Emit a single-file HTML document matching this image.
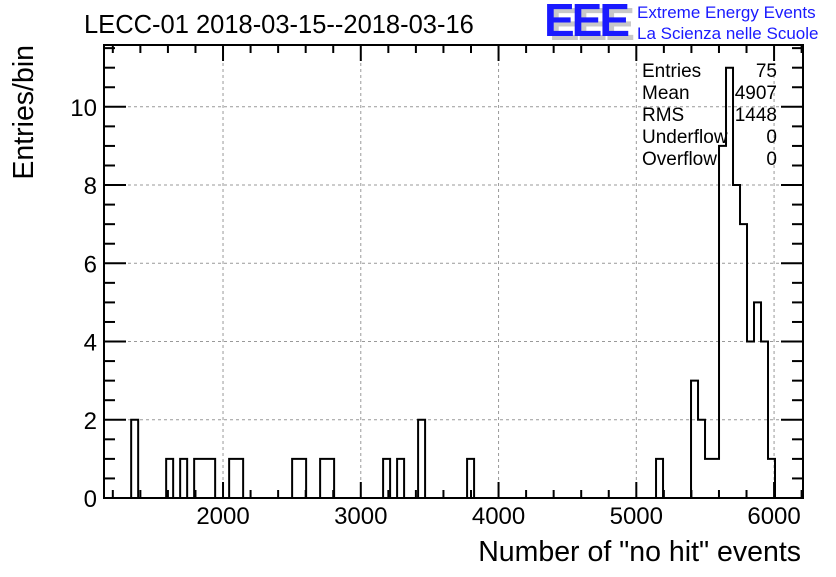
<!DOCTYPE html>
<html><head><meta charset="utf-8"><style>
body{margin:0;background:#fff;}
svg text{font-family:"Liberation Sans",sans-serif;}
</style></head><body>
<svg width="836" height="572" viewBox="0 0 836 572">
<g id="grid"></g>
<g id="ticks"></g>
<path id="hist" fill="none" stroke="#000" stroke-width="2"/>
<rect x="104" y="45" width="699" height="453" fill="none" stroke="#000" stroke-width="2"/>
<g id="labels" font-size="24"></g>
<text x="84" y="33" font-size="25.5">LECC-01 2018-03-15--2018-03-16</text>
<g>
<text x="549" y="40" font-size="46" font-weight="bold" fill="#c8c8c8" letter-spacing="-3">EEE</text>
<text x="544" y="36" font-size="46" font-weight="bold" fill="#1a1aff" letter-spacing="-3">EEE</text>
<text x="637" y="18" font-size="17" fill="#1a1aff">Extreme Energy Events</text>
<text x="637" y="39" font-size="17" fill="#1a1aff">La Scienza nelle Scuole</text>
</g>
<g font-size="19">
<text x="642" y="77">Entries</text><text x="777" y="77" text-anchor="end">75</text>
<text x="642" y="99">Mean</text><text x="777" y="99" text-anchor="end">4907</text>
<text x="642" y="121">RMS</text><text x="777" y="121" text-anchor="end">1448</text>
<text x="642" y="143">Underflow</text><text x="777" y="143" text-anchor="end">0</text>
<text x="642" y="165">Overflow</text><text x="777" y="165" text-anchor="end">0</text>
</g>
<text x="801" y="561" font-size="28.5" text-anchor="end">Number of "no hit" events</text>
<text transform="translate(33,45) rotate(-90)" font-size="28.5" text-anchor="end">Entries/bin</text>
</svg>
<script>
const binMin = 1130, binMax = 6210, nBins = 100;
const filledBins = [4,9,11,13,14,15,18,19,27,28,31,32,40,42,45,52,79,84,85,86,87,88,89,90,91,92,93,94,95];
const binCounts = [2,1,1,1,1,1,1,1,1,1,1,1,1,1,2,1,1,3,2,1,1,9,11,8,7,4,5,4,1];
const xTickValues = [2000,3000,4000,5000,6000];
const yTickValues = [0,2,4,6,8,10];
const X0=104,X1=803,Y0=498,Y1=45,xmin=1136,xmax=6210,ymin=0,ymax=11.58;
const sx=v=>X0+(v-xmin)/(xmax-xmin)*(X1-X0);
const sy=v=>Y0-(v-ymin)/(ymax-ymin)*(Y0-Y1);
const NS="http://www.w3.org/2000/svg";
function mk(tag,attrs,parent){const e=document.createElementNS(NS,tag);for(const k in attrs)e.setAttribute(k,attrs[k]);parent.appendChild(e);return e;}
const grid=document.getElementById('grid'),ticks=document.getElementById('ticks'),labels=document.getElementById('labels');
const counts=new Array(nBins).fill(0);
filledBins.forEach((b,i)=>counts[b]=binCounts[i]);
const w=(binMax-binMin)/nBins;
let d=`M${sx(binMin)},${sy(0)}`;
for(let i=0;i<nBins;i++){const a=binMin+i*w,b=a+w;d+=` L${sx(a)},${sy(counts[i])} L${sx(b)},${sy(counts[i])}`;}
d+=` L${sx(binMax)},${sy(0)}`;
document.getElementById('hist').setAttribute('d',d);
xTickValues.forEach(v=>{
 const l=mk('line',{x1:sx(v),x2:sx(v),y1:Y0,y2:Y1,stroke:'#999','stroke-dasharray':'3,3'},grid);
 
 
 const t=mk('text',{x:sx(v),y:524,'text-anchor':'middle'},labels);t.textContent=v;
 
 
});
for(let v=1200;v<=6200;v+=200){const x=sx(v);const len=(v%1000===0)?16:8;
 mk('line',{x1:x,x2:x,y1:Y0,y2:Y0-len,stroke:'#000','stroke-width':2},ticks);
 mk('line',{x1:x,x2:x,y1:Y1,y2:Y1+len,stroke:'#000','stroke-width':2},ticks);}
yTickValues.forEach(v=>{
 if(v>0){const l=mk('line',{x1:X0,x2:X1,y1:sy(v),y2:sy(v),stroke:'#999','stroke-dasharray':'3,3'},grid);
 
 }
 const t=mk('text',{x:97,y:sy(v)+9,'text-anchor':'end'},labels);t.textContent=v;
 
 
});
for(let v=0;v<=11.5;v+=0.5){const y=sy(v);const len=(v%2===0)?22:11;
 mk('line',{x1:X0,x2:X0+len,y1:y,y2:y,stroke:'#000','stroke-width':2},ticks);
 mk('line',{x1:X1,x2:X1-len,y1:y,y2:y,stroke:'#000','stroke-width':2},ticks);}
</script>
</body></html>
